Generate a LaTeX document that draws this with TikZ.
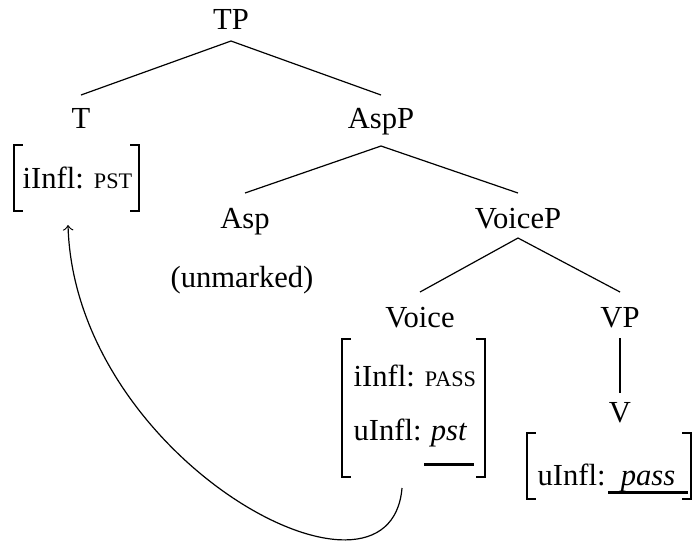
\documentclass[tikz,border=0pt]{standalone}
\usepackage{fontspec}
\setmainfont{Liberation Serif}
\newcommand\fakesc[1]{{\fontsize{7.4}{9}\selectfont #1}}
\begin{document}
\begin{tikzpicture}[x=0.33333pt,y=-0.33333pt,
  lbl/.style={inner sep=0pt, font=\fontsize{10.2}{12}\selectfont},
  bbox/.style={inner sep=0pt, draw=none},
  brk/.style={line width=0.65pt, line cap=rect, line join=miter},
  ul/.style={line width=1pt},
  edge/.style={line width=0.4pt}]
\useasboundingbox (0,0) rectangle (697,541);
% tree labels
\node[lbl,anchor=base] (TP) at (231,29) {TP};
\node[lbl,anchor=base] (T) at (81,128) {T};
\node[lbl,anchor=base] (AspP) at (381,128) {AspP};
\node[lbl,anchor=base] (Asp) at (245,228) {Asp};
\node[lbl,anchor=base] (VoiceP) at (518,228) {VoiceP};
\node[lbl,anchor=base] (unm) at (242,287) {(unmarked)};
\node[lbl,anchor=base] (Voice) at (420,327) {Voice};
\node[lbl,anchor=base] (VP) at (620,327) {VP};
\node[lbl,anchor=base] (V) at (620,422) {V};
% edges
\draw[edge] ([shift={(0,12)}]TP.base) -- ([shift={(0,-33)}]T.base);
\draw[edge] ([shift={(0,12)}]TP.base) -- ([shift={(0,-33)}]AspP.base);
\draw[edge] ([shift={(0,18)}]AspP.base) -- ([shift={(0,-35)}]Asp.base);
\draw[edge] ([shift={(0,18)}]AspP.base) -- ([shift={(0,-35)}]VoiceP.base);
\draw[edge] ([shift={(0,10)}]VoiceP.base) -- ([shift={(0,-35)}]Voice.base);
\draw[edge] ([shift={(0,10)}]VoiceP.base) -- ([shift={(0,-35)}]VP.base);
\draw[edge] ([shift={(0,11)}]VP.base) -- ([shift={(0,-29)}]V.base);
% bracket boxes
\node[bbox, minimum width=41pt, minimum height=21.33pt] (tb) at (76.5,178) {};
\node[bbox, minimum width=47pt, minimum height=45.33pt] (vb) at (413.5,408) {};
\node[bbox, minimum width=54pt, minimum height=21.33pt] (wb) at (609,466) {};
\foreach \b in {tb,vb,wb}{
  \draw[brk] ([shift={(8,0)}]\b.north west) -- (\b.north west) -- (\b.south west) -- ([shift={(8,0)}]\b.south west);
  \draw[brk] ([shift={(-8,0)}]\b.north east) -- (\b.north east) -- (\b.south east) -- ([shift={(-8,0)}]\b.south east);
}
% feature texts
\node[lbl,anchor=base west] (tf) at (22,188) {iInfl: \fakesc{PST}};
\node[lbl,anchor=base west] (vf1) at (353,386) {iInfl: \fakesc{PASS}};
\node[lbl,anchor=base west] (vf2) at (353,440) {uInfl:};
\node[lbl,anchor=base] (pst) at (449,440) {\textit{pst}};
\draw[ul] ([shift={(-25,24)}]pst.base) -- ([shift={(25,24)}]pst.base);
\node[lbl,anchor=base west] (wf) at (537,485) {uInfl:};
\node[lbl,anchor=base] (pass) at (648,485) {\textit{pass}};
\draw[ul] ([shift={(-40,7)}]pass.base) -- ([shift={(40,7)}]pass.base);
% movement arrow
\coordinate (a0) at (402,488);
\coordinate (a1) at (68,225);
\draw[edge,->] (a0) .. controls (390,630) and (75,460) .. (a1);
\end{tikzpicture}
\end{document}
